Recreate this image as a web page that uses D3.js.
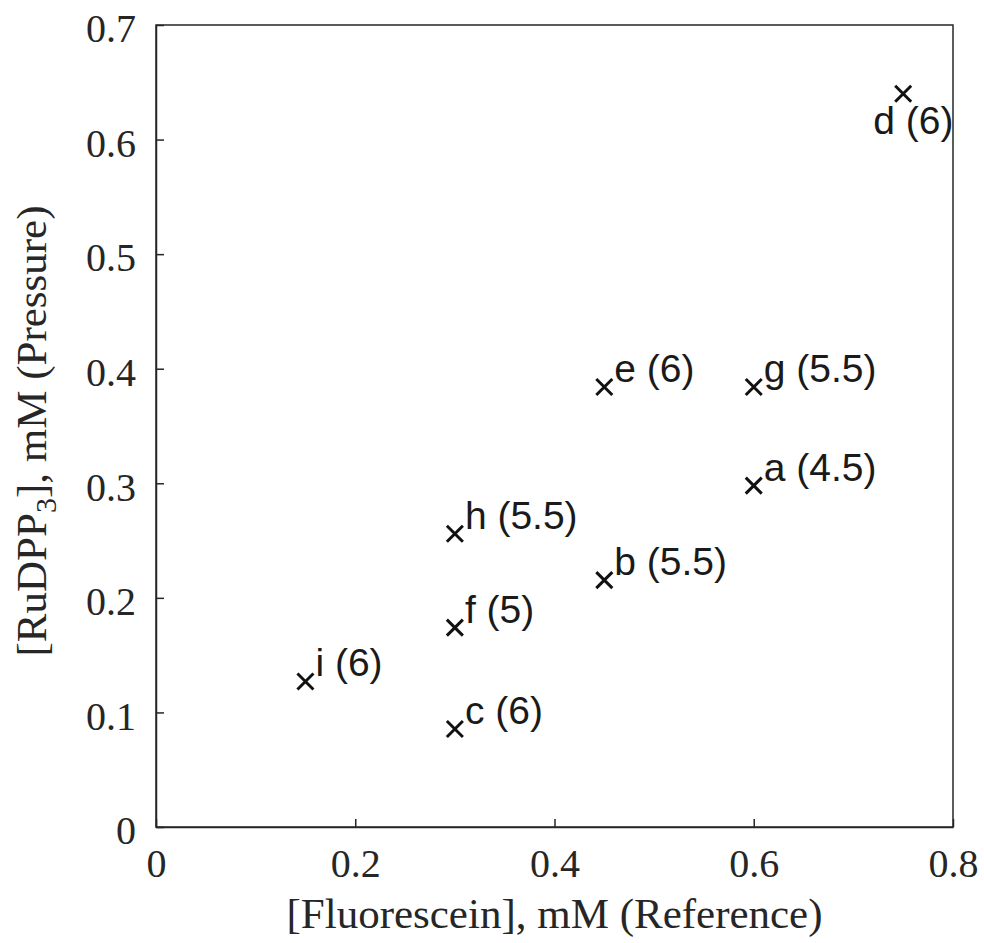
<!DOCTYPE html>
<html>
<head>
  <title>RuDPP3 vs Fluorescein</title>
  <style>
    body { margin: 0; background: #fff; }
    svg { display: block; background: #fff; }
    .tick text { font-family: "Liberation Serif", "Times New Roman", serif; font-size: 40px; fill: #262626; }
    .axis-label { font-family: "Liberation Serif", "Times New Roman", serif; font-size: 43px; fill: #262626; }
    .pt-label { font-family: "Liberation Sans", Arial, sans-serif; font-size: 39px; fill: #1a1a1a; }
  </style>
</head>
<body>
  <script src="https://d3js.org/d3.v7.min.js"></script>
  <script>
    // data
    const letters = ["a", "b", "c", "d", "e", "f", "g", "h", "i"];
    const phValues = ["4.5", "5.5", "6", "6", "6", "5", "5.5", "5.5", "6"];
    const fluorescein = [0.6, 0.45, 0.3, 0.75, 0.45, 0.3, 0.6, 0.3, 0.15];
    const rudpp = [0.298, 0.2155, 0.0855, 0.640, 0.384, 0.174, 0.384, 0.256, 0.127];
    const xTicks = [0, 0.2, 0.4, 0.6, 0.8];
    const yTicks = [0, 0.1, 0.2, 0.3, 0.4, 0.5, 0.6, 0.7];

    const width = 984;
    const height = 943;
    const margin = { top: 25, right: 31, bottom: 116, left: 156 };

    const svg = d3.select("body")
      .append("svg")
      .attr("width", width)
      .attr("height", height);

    const x = d3.scaleLinear()
      .domain([0, 0.8])
      .range([margin.left, width - margin.right]);

    const y = d3.scaleLinear()
      .domain([0, 0.7])
      .range([height - margin.bottom, margin.top]);

    const axisColor = "#262626";

    // frame (box on)
    svg.append("rect")
      .attr("x", x(0))
      .attr("y", y(0.7))
      .attr("width", x(0.8) - x(0))
      .attr("height", y(0) - y(0.7))
      .attr("fill", "none")
      .attr("stroke", axisColor)
      .attr("stroke-width", 1.5);

    // axes, ticks pointing inward
    const xAxis = svg.append("g")
      .attr("transform", `translate(0,${y(0)})`)
      .call(d3.axisBottom(x).tickValues(xTicks).tickSizeInner(-8).tickSizeOuter(0).tickPadding(22).tickFormat(d3.format("")));

    const yAxis = svg.append("g")
      .attr("transform", `translate(${x(0)},0)`)
      .call(d3.axisLeft(y).tickValues(yTicks).tickSizeInner(-8).tickSizeOuter(0).tickPadding(20).tickFormat(d3.format("")));

    [xAxis, yAxis].forEach(a => {
      a.select(".domain").attr("stroke", axisColor).attr("stroke-width", 1.5);
      a.selectAll(".tick line").attr("stroke", axisColor).attr("stroke-width", 1.5);
    });
    yAxis.selectAll(".tick text").attr("dy", "0.42em");

    // axis labels
    svg.append("text")
      .attr("class", "axis-label")
      .attr("x", (x(0) + x(0.8)) / 2)
      .attr("y", 928)
      .attr("text-anchor", "middle")
      .text("[Fluorescein], mM (Reference)");

    const yl = svg.append("text")
      .attr("class", "axis-label")
      .attr("transform", `translate(46,${(y(0) + y(0.7)) / 2 + 5}) rotate(-90)`)
      .attr("text-anchor", "middle");
    yl.append("tspan").text("[RuDPP");
    yl.append("tspan").attr("dy", 10).style("font-size", "30px").text("3");
    yl.append("tspan").attr("dy", -10).text("], mM (Pressure)");

    // markers
    const pts = letters.map((l, i) => ({ l, ph: phValues[i], fx: fluorescein[i], ry: rudpp[i] }));
    const s = 8;

    const marks = svg.append("g")
      .selectAll("g")
      .data(pts)
      .join("g")
      .attr("transform", d => `translate(${x(d.fx)},${y(d.ry)})`);

    marks.append("path")
      .attr("d", `M${-s},${-s}L${s},${s}M${-s},${s}L${s},${-s}`)
      .attr("stroke", "#111")
      .attr("stroke-width", 3)
      .attr("fill", "none");

    // label for "d" sits under-left of its marker, the rest up-right
    marks.append("text")
      .attr("class", "pt-label")
      .attr("x", d => d.l === "d" ? -30 : 10)
      .attr("y", d => d.l === "d" ? 40 : -5)
      .text(d => `${d.l} (${d.ph})`);
  </script>
</body>
</html>
